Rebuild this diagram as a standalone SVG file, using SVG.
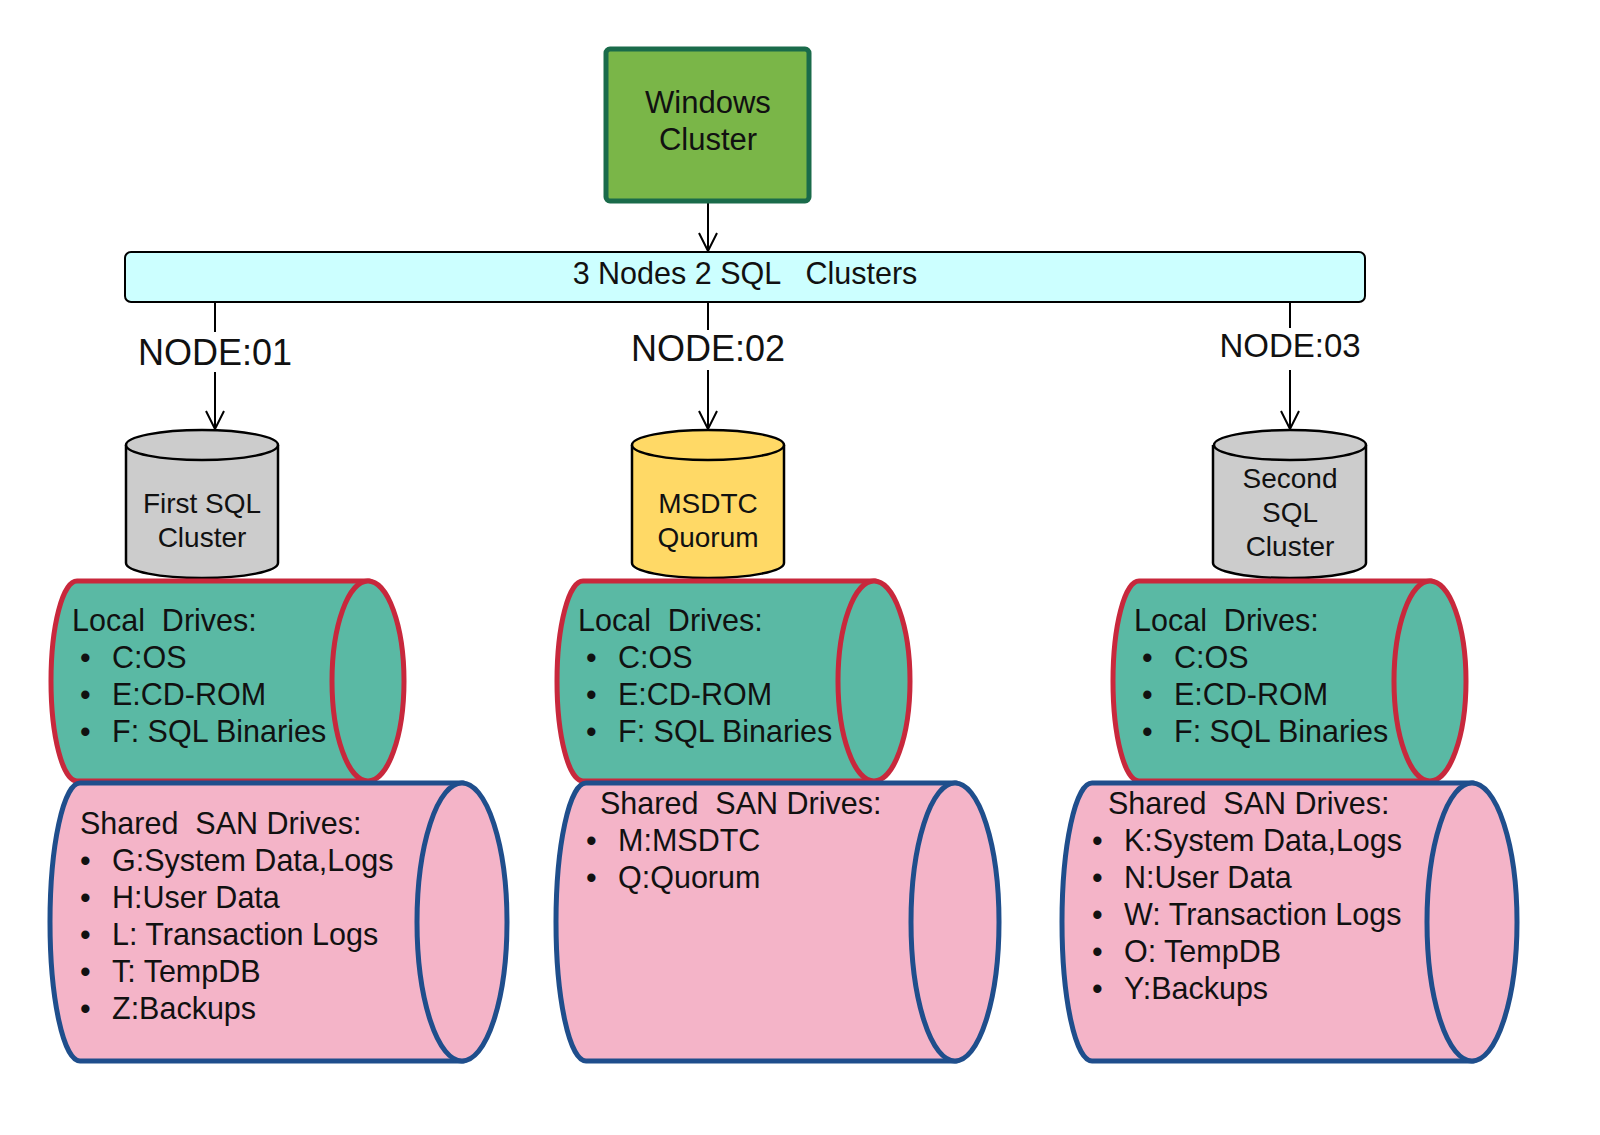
<svg xmlns="http://www.w3.org/2000/svg" width="1600" height="1135" viewBox="0 0 1600 1135">
<defs>
<marker id="ah" viewBox="0 0 20 20" refX="19" refY="10" markerWidth="20" markerHeight="20" markerUnits="userSpaceOnUse" orient="auto">
<path d="M1,1 L19,10 L1,19" fill="none" stroke="#000" stroke-width="2"/>
</marker>
<style>
text{font-family:"Liberation Sans",Arial,sans-serif;fill:#111}
.t{font-size:30.5px}
.c{text-anchor:middle}
.cy{font-size:28px}
.nd{font-size:36px}
.ln{stroke:#000;stroke-width:2;fill:none}
.gray{fill:#cccccc;stroke:#000;stroke-width:2.5}
.yel{fill:#ffd966;stroke:#000;stroke-width:2.5}
.loc{fill:#5ab9a4;stroke:#c8283c;stroke-width:5}
.san{fill:#f4b4c8;stroke:#1f4e8c;stroke-width:5}
</style>
</defs>
<rect width="1600" height="1135" fill="#fff"/>
<g id="connectors">
<line class="ln" x1="708" y1="202" x2="708" y2="251" marker-end="url(#ah)"/>
<line class="ln" x1="215" y1="302" x2="215" y2="332"/>
<line class="ln" x1="215" y1="372" x2="215" y2="429" marker-end="url(#ah)"/>
<line class="ln" x1="708" y1="302" x2="708" y2="330"/>
<line class="ln" x1="708" y1="370" x2="708" y2="429" marker-end="url(#ah)"/>
<line class="ln" x1="1290" y1="302" x2="1290" y2="328"/>
<line class="ln" x1="1290" y1="370" x2="1290" y2="429" marker-end="url(#ah)"/>
<text x="215" y="365" class="c nd">NODE:01</text>
<text x="708" y="361" class="c nd">NODE:02</text>
<text x="1290" y="357" class="c" style="font-size:33px">NODE:03</text>
</g>
<g id="windows">
<rect x="606" y="49" width="203" height="152" rx="4" fill="#7ab648" stroke="#1a6b4a" stroke-width="5"/>
<text x="708" y="113" class="c" style="font-size:31px">Windows</text>
<text x="708" y="150" class="c" style="font-size:31px">Cluster</text>
</g>
<g id="bar">
<rect x="125" y="252" width="1240" height="50" rx="6" fill="#ccffff" stroke="#000" stroke-width="2"/>
<text x="745" y="284" class="t c" xml:space="preserve">3 Nodes 2 SQL   Clusters</text>
</g>
<g id="db1">
<path class="gray" d="M126,445 L126,563 A76,15 0 0 0 278,563 L278,445"/>
<ellipse class="gray" cx="202" cy="445" rx="76" ry="15"/>
<text x="202" y="513" class="c cy">First SQL</text>
<text x="202" y="547" class="c cy">Cluster</text>
</g>
<g id="db2">
<path class="yel" d="M632,445 L632,563 A76,15 0 0 0 784,563 L784,445"/>
<ellipse class="yel" cx="708" cy="445" rx="76" ry="15"/>
<text x="708" y="513" class="c cy">MSDTC</text>
<text x="708" y="547" class="c cy">Quorum</text>
</g>
<g id="db3">
<path class="gray" d="M1213,445 L1213,563 A76,15 0 0 0 1366,563 L1366,445"/>
<ellipse class="gray" cx="1290" cy="445" rx="76" ry="15"/>
<text x="1290" y="488" class="c cy">Second</text>
<text x="1290" y="522" class="c cy">SQL</text>
<text x="1290" y="556" class="c cy">Cluster</text>
</g>
<g id="local1">
<path class="loc" d="M77,581 L368,581 L368,781 L77,781 A26,100 0 0 1 77,581 Z"/>
<ellipse class="loc" cx="368" cy="681" rx="36" ry="100"/>
<text x="72" y="631" class="t" xml:space="preserve">Local  Drives:</text>
<text x="80" y="668" class="t">•</text><text x="112" y="668" class="t">C:OS</text>
<text x="80" y="705" class="t">•</text><text x="112" y="705" class="t">E:CD-ROM</text>
<text x="80" y="742" class="t">•</text><text x="112" y="742" class="t">F: SQL Binaries</text>
</g>
<g id="local2">
<path class="loc" d="M583,581 L874,581 L874,781 L583,781 A26,100 0 0 1 583,581 Z"/>
<ellipse class="loc" cx="874" cy="681" rx="36" ry="100"/>
<text x="578" y="631" class="t" xml:space="preserve">Local  Drives:</text>
<text x="586" y="668" class="t">•</text><text x="618" y="668" class="t">C:OS</text>
<text x="586" y="705" class="t">•</text><text x="618" y="705" class="t">E:CD-ROM</text>
<text x="586" y="742" class="t">•</text><text x="618" y="742" class="t">F: SQL Binaries</text>
</g>
<g id="local3">
<path class="loc" d="M1139,581 L1430,581 L1430,781 L1139,781 A26,100 0 0 1 1139,581 Z"/>
<ellipse class="loc" cx="1430" cy="681" rx="36" ry="100"/>
<text x="1134" y="631" class="t" xml:space="preserve">Local  Drives:</text>
<text x="1142" y="668" class="t">•</text><text x="1174" y="668" class="t">C:OS</text>
<text x="1142" y="705" class="t">•</text><text x="1174" y="705" class="t">E:CD-ROM</text>
<text x="1142" y="742" class="t">•</text><text x="1174" y="742" class="t">F: SQL Binaries</text>
</g>
<g id="san1">
<path class="san" d="M80,783 L462,783 L462,1061 L80,1061 A30,139 0 0 1 80,783 Z"/>
<ellipse class="san" cx="462" cy="922" rx="45" ry="139"/>
<text x="80" y="834" class="t" xml:space="preserve">Shared  SAN Drives:</text>
<text x="80" y="871" class="t">•</text><text x="112" y="871" class="t">G:System Data,Logs</text>
<text x="80" y="908" class="t">•</text><text x="112" y="908" class="t">H:User Data</text>
<text x="80" y="945" class="t">•</text><text x="112" y="945" class="t">L: Transaction Logs</text>
<text x="80" y="982" class="t">•</text><text x="112" y="982" class="t">T: TempDB</text>
<text x="80" y="1019" class="t">•</text><text x="112" y="1019" class="t">Z:Backups</text>
</g>
<g id="san2">
<path class="san" d="M586,783 L955,783 L955,1061 L586,1061 A30,139 0 0 1 586,783 Z"/>
<ellipse class="san" cx="955" cy="922" rx="44" ry="139"/>
<text x="600" y="814" class="t" xml:space="preserve">Shared  SAN Drives:</text>
<text x="586" y="851" class="t">•</text><text x="618" y="851" class="t">M:MSDTC</text>
<text x="586" y="888" class="t">•</text><text x="618" y="888" class="t">Q:Quorum</text>
</g>
<g id="san3">
<path class="san" d="M1092,783 L1472,783 L1472,1061 L1092,1061 A30,139 0 0 1 1092,783 Z"/>
<ellipse class="san" cx="1472" cy="922" rx="45" ry="139"/>
<text x="1108" y="814" class="t" xml:space="preserve">Shared  SAN Drives:</text>
<text x="1092" y="851" class="t">•</text><text x="1124" y="851" class="t">K:System Data,Logs</text>
<text x="1092" y="888" class="t">•</text><text x="1124" y="888" class="t">N:User Data</text>
<text x="1092" y="925" class="t">•</text><text x="1124" y="925" class="t">W: Transaction Logs</text>
<text x="1092" y="962" class="t">•</text><text x="1124" y="962" class="t">O: TempDB</text>
<text x="1092" y="999" class="t">•</text><text x="1124" y="999" class="t">Y:Backups</text>
</g>
</svg>
